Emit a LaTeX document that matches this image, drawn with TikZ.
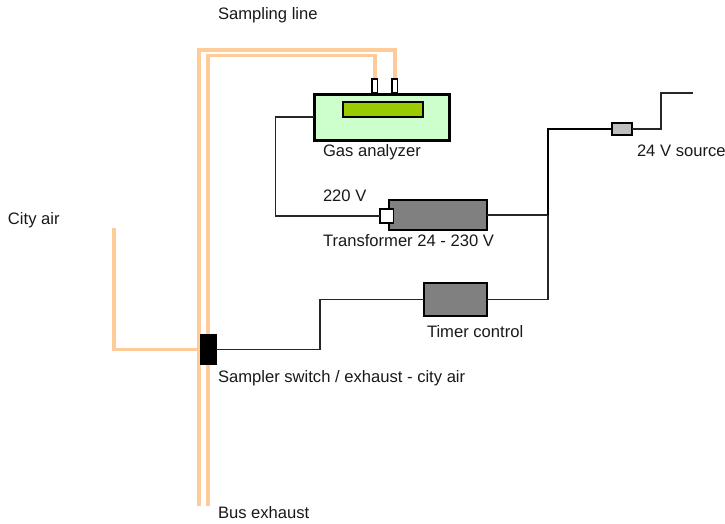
\documentclass[tikz,border=0pt]{standalone}
\usepackage{fontspec}
\setmainfont{Liberation Sans}
\usetikzlibrary{positioning}
\pgfdeclarelayer{background}
\pgfsetlayers{background,main}
\definecolor{pipecol}{HTML}{FFCC99}
\definecolor{greenbox}{HTML}{CCFFCC}
\definecolor{displaycol}{HTML}{99CC00}
\tikzset{
    lbl/.style={anchor=base west, inner sep=0, outer sep=0, font=\fontsize{16.6}{19}\selectfont, text=black!90},
    part/.style={draw=black, line width=1.4pt, inner sep=0, outer sep=0},
    pipe/.style={draw=pipecol, line width=3.5pt},
    wire/.style={draw=black!85, line width=1.3pt},
    busline/.style={draw=black, line width=1.8pt},
}
\begin{document}
\begin{tikzpicture}[x=1pt, y=-1pt]
    \useasboundingbox (0, 0) rectangle (725, 523);

    \node[part, line width=3pt, fill=greenbox, minimum width=135pt, minimum height=46pt] (analyzer) at (381.5, 117) {};
    \node[part, fill=displaycol, minimum width=80pt, minimum height=15pt] (display) at (383, 109.5) {};
    \node[part, fill=white, minimum width=5.5pt, minimum height=14pt] (port1) at (374.75, 86) {};
    \node[part, fill=white, minimum width=5.5pt, minimum height=14pt] (port2) at (394.75, 86) {};

    \node[part, fill=black!50, minimum width=98pt, minimum height=30pt] (transformer) at (438, 215) {};
    \node[part, fill=white, minimum width=13.5pt, minimum height=14pt] (plug) at (386.75, 216) {};
    \node[part, fill=black!50, minimum width=63pt, minimum height=33pt] (timer) at (455.5, 299.5) {};
    \node[part, fill=black!25, minimum width=20pt, minimum height=12pt] (fuse) at (622, 129) {};
    \node[part, fill=black, minimum width=15pt, minimum height=29pt] (switch) at (208.5, 349.5) {};

    \coordinate (pipe1) at (199, 506);
    \coordinate (pipe2) at (208, 506);
    \coordinate (top1) at (199, 50);
    \coordinate (top2) at (208, 55.5);
    \coordinate (city) at (114, 228);
    \coordinate (wirea) at (275.5, 117);
    \coordinate (wireb) at (275.5, 216);
    \coordinate (junctiona) at (548, 215);
    \coordinate (junctionb) at (548, 129);
    \coordinate (junctionc) at (548, 299.5);
    \coordinate (wirec) at (320, 299.5);
    \coordinate (wired) at (320, 349.5);
    \coordinate (sourcea) at (661, 129);
    \coordinate (sourceb) at (661, 93);
    \coordinate (sourcec) at (693, 93);

    \begin{pgfonlayer}{background}
        \draw[pipe] (pipe1) -- (top1) -| (port2.north);
        \draw[pipe] (pipe2) -- (top2) -| (port1.north);
        \draw[pipe] (city) |- (switch.west);
    \end{pgfonlayer}

    \draw[wire] (analyzer.west) -- (wirea) -- (wireb) -- (plug.west);
    \draw[wire] (transformer.east) -- (junctiona);
    \draw[wire] (timer.east) -- (junctionc) -- (junctiona);
    \draw[busline] (junctiona) -- (junctionb) -- (fuse.west);
    \draw[wire] (fuse.east) -- (sourcea) -- (sourceb) -- (sourcec);
    \draw[wire] (timer.west) -- (wirec) -- (wired) -- (switch.east);

    \node[lbl] (lsampling) at (218, 19) {Sampling line};
    \node[lbl] (lcity) at (8, 224) {City air};
    \node[lbl] (lanalyzer) at (323, 156) {Gas analyzer};
    \node[lbl] (lvolt) at (323, 201) {220 V};
    \node[lbl] (ltransformer) at (323, 246) {Transformer 24 - 230 V};
    \node[lbl] (ltimer) at (427, 337) {Timer control};
    \node[lbl] (lsource) at (637, 156) {24 V source};
    \node[lbl] (lswitch) at (218, 382) {Sampler switch / exhaust - city air};
    \node[lbl] (lexhaust) at (218, 518) {Bus exhaust};
\end{tikzpicture}
\end{document}
